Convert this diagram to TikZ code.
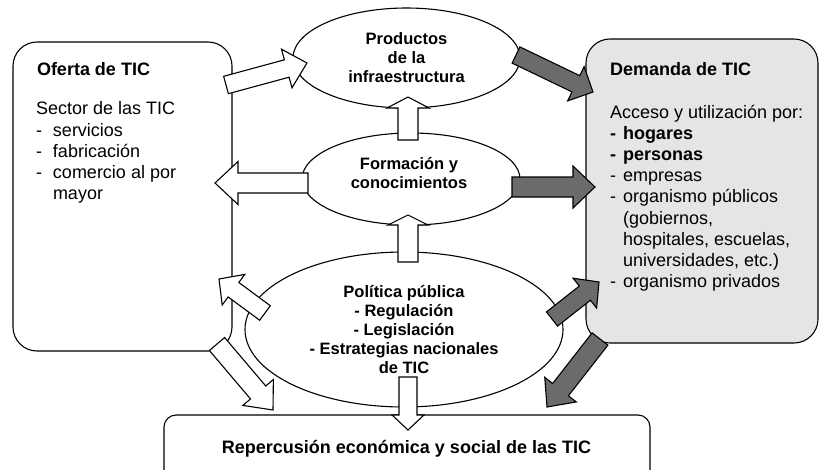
\documentclass[tikz,border=0pt]{standalone}
\usepackage{fontspec}
\setmainfont{Liberation Sans}
\usetikzlibrary{calc,shapes.geometric}
\definecolor{darkfill}{gray}{0.42}
\definecolor{demandfill}{gray}{0.9}
% block arrow: #1 style, #2 tail, #3 tip, #4 shaft half width, #5 head half width, #6 head length
\newcommand\blockarrow[6]{%
  \path ($(#3)!#6pt!(#2)$) coordinate (bah);
  \draw[#1] ($(#2)!#4pt!90:(#3)$) -- ($(bah)!#4pt!90:(#3)$) -- ($(bah)!#5pt!90:(#3)$) -- (#3)
    -- ($(bah)!#5pt!-90:(#3)$) -- ($(bah)!#4pt!-90:(#3)$) -- ($(#2)!#4pt!-90:(#3)$) -- cycle;
}
\begin{document}
\begin{tikzpicture}[x=1pt,y=-1pt,
  every node/.style={inner sep=0pt, outer sep=0pt},
  outl/.style={line width=1.1pt, draw=black},
  bigbox/.style={outl, rectangle, rounded corners=24pt},
  ell/.style={outl, ellipse, fill=white, align=center, font=\fontsize{16.5}{19}\selectfont\bfseries},
  elltext/.style={align=center, font=\fontsize{16.5}{19}\selectfont\bfseries},
  title/.style={font=\fontsize{18}{21.2}\selectfont\bfseries, anchor=base west},
  body/.style={font=\fontsize{18}{21.2}\selectfont, align=left, anchor=north west},
  whitearrow/.style={line width=1.1pt, draw=black, fill=white, line join=miter},
  darkarrow/.style={line width=1.1pt, draw=black, fill=darkfill, line join=miter},
]
\useasboundingbox (0,0) rectangle (819,469);
\clip (0,0) rectangle (819,469);

% boxes
\node[bigbox, fill=white, minimum width=219pt, minimum height=309pt] (oferta) at (122.5,196.5) {};
\node[bigbox, fill=demandfill, minimum width=232pt, minimum height=304pt] (demanda) at (702,191) {};
\node[outl, rectangle, rounded corners=12pt, fill=white, minimum width=486pt, minimum height=80pt] (repercusion) at (407,455) {};

% ellipses
\node[ell, minimum width=227pt, minimum height=100pt] (productos) at (406.5,58) {Productos\\de la\\infraestructura};
\node[ell, minimum width=218pt, minimum height=92pt] (formacion) at (411,179) {};
\node[elltext] (formaciontext) at (409,173) {Formación y\\conocimientos};
\node[ell, minimum width=318pt, minimum height=155pt] (politica) at (404,329.5) {Política pública\\- Regulación\\- Legislación\\- Estrategias nacionales\\de TIC};

% texts
\node[title] (ofertatitle) at (37,75) {Oferta de TIC};
\node[body] (ofertabody) at (36,101.9) {Sector de las TIC\\
\makebox[17pt][l]{-}servicios\\
\makebox[17pt][l]{-}fabricación\\
\makebox[17pt][l]{-}comercio al por\\
\hspace*{17pt}mayor};
\node[title] (demandatitle) at (610,75) {Demanda de TIC};
\node[body] (demandabody) at (610,104.9) {Acceso y utilización por:\\
\textbf{\makebox[13pt][l]{-}hogares}\\
\textbf{\makebox[13pt][l]{-}personas}\\
\makebox[13pt][l]{-}empresas\\
\makebox[13pt][l]{-}organismo públicos\\
\hspace*{13pt}(gobiernos,\\
\hspace*{13pt}hospitales, escuelas,\\
\hspace*{13pt}universidades, etc.)\\
\makebox[13pt][l]{-}organismo privados};
\node[font=\fontsize{18}{21}\selectfont\bfseries, anchor=base] (repercusiontext) at (406.5,453) {Repercusión económica y social de las TIC};

% arrow end points
\coordinate (a1s) at (226,85);   \coordinate (a1e) at (307,63);
\coordinate (a2s) at (516,55);   \coordinate (a2e) at (593,92);
\coordinate (a3s) at (408,140);  \coordinate (a3e) at (408,97);
\coordinate (a4s) at (308,183);  \coordinate (a4e) at (215,183);
\coordinate (a5s) at (512,187);  \coordinate (a5e) at (595,187);
\coordinate (a6s) at (408,262);  \coordinate (a6e) at (408,215);
\coordinate (a7s) at (265,313);  \coordinate (a7e) at (219,279);
\coordinate (a8s) at (217,344);  \coordinate (a8e) at (273,410);
\coordinate (a9s) at (408,377);  \coordinate (a9e) at (408,430);
\coordinate (a10s) at (552,319); \coordinate (a10e) at (599,282);
\coordinate (a11s) at (600,339); \coordinate (a11e) at (547,407);

% arrows
\blockarrow{whitearrow}{a1s}{a1e}{9}{20}{21}
\blockarrow{darkarrow}{a2s}{a2e}{9}{19}{19}
\blockarrow{whitearrow}{a3s}{a3e}{10}{21}{11}
\blockarrow{whitearrow}{a4s}{a4e}{10}{21.5}{23}
\blockarrow{darkarrow}{a5s}{a5e}{10}{21}{22}
\blockarrow{whitearrow}{a6s}{a6e}{10}{20}{10}
\blockarrow{whitearrow}{a7s}{a7e}{9}{19}{18}
\blockarrow{whitearrow}{a8s}{a8e}{10}{20}{23}
\blockarrow{whitearrow}{a9s}{a9e}{9}{16}{15}
\blockarrow{darkarrow}{a10s}{a10e}{9}{19}{18}
\blockarrow{darkarrow}{a11s}{a11e}{10}{20}{22}
\end{tikzpicture}
\end{document}
